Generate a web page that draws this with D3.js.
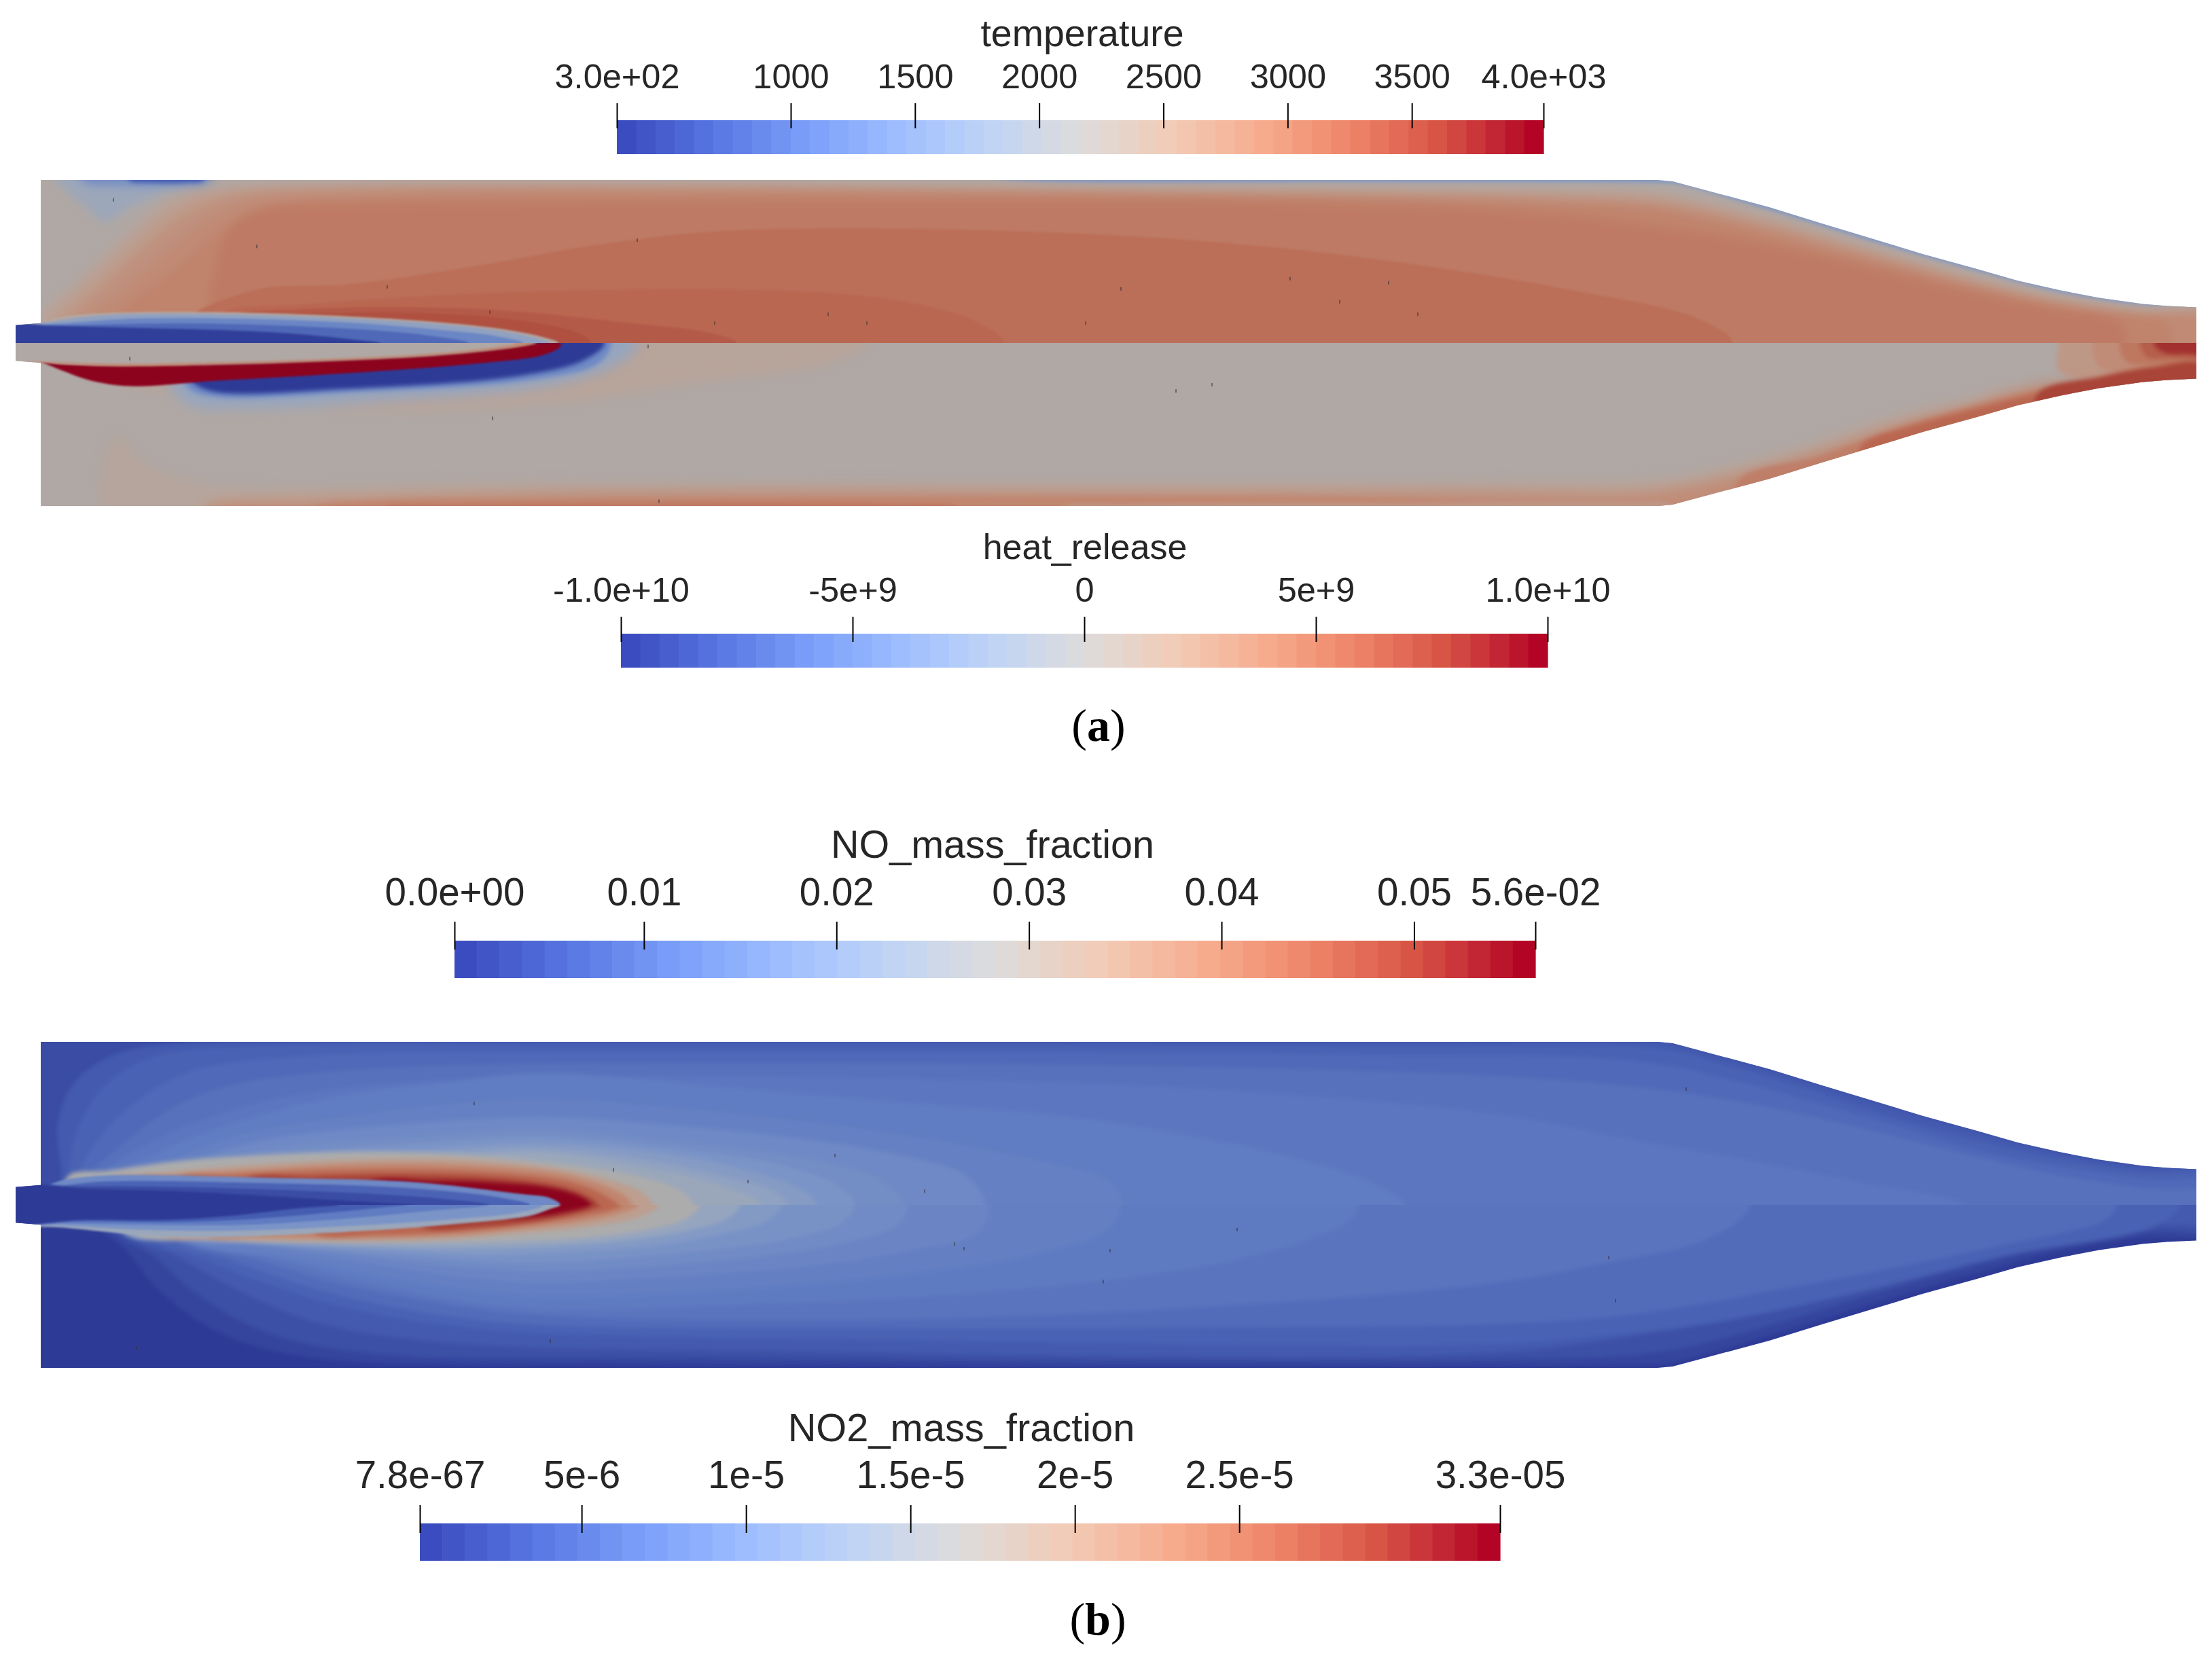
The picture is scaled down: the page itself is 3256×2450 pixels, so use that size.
<!DOCTYPE html>
<html>
<head>
<meta charset="utf-8">
<script src="https://cdnjs.cloudflare.com/ajax/libs/d3/7.8.5/d3.min.js"></script>
<style>
body { margin: 0; background: #fff; }
text { font-family: "Liberation Sans", Arial, sans-serif; fill: #262626; }
</style>
</head>
<body>
<div id="chart-area"></div>
<script>
// colour map stops (cool to warm)
var mapStops = [0, 0.1, 0.2, 0.3, 0.4, 0.5, 0.6, 0.7, 0.8, 0.9, 1];
var mapColors = ["#3b4cc0", "#5977e3", "#7b9ff9", "#9ebeff", "#c0d4f5", "#dddcdc", "#f2cbb7", "#f7ac8e", "#ee8468", "#d65244", "#b40426"];

// colour bars
var tempDomain = [300, 4030];
var tempTicks = [300, 1000, 1500, 2000, 2500, 3000, 3500, 4030];
var tempLabels = ["3.0e+02", "1000", "1500", "2000", "2500", "3000", "3500", "4.0e+03"];
var heatDomain = [-1e10, 1e10];
var heatTicks = [-1e10, -5e9, 0, 5e9, 1e10];
var heatLabels = ["-1.0e+10", "-5e+9", "0", "5e+9", "1.0e+10"];
var noDomain = [0.00016, 0.0563];
var noTicks = [0.00016, 0.01, 0.02, 0.03, 0.04, 0.05, 0.0563];
var noLabels = ["0.0e+00", "0.01", "0.02", "0.03", "0.04", "0.05", "5.6e-02"];
var no2Domain = [8e-8, 3.293e-5];
var no2Ticks = [8e-8, 5e-6, 1e-5, 1.5e-5, 2e-5, 2.5e-5, 3.293e-5];
var no2Labels = ["7.8e-67", "5e-6", "1e-5", "1.5e-5", "2e-5", "2.5e-5", "3.3e-05"];
var bandCount = 48;

// combustor half outline, axial x and radial y in the same length unit
var outlineX = [-3.7, -3.7, 0, 0, 238, 240.2, 247, 254.5, 262, 269.7, 277, 285, 291, 297.2, 303, 309.4, 313, 317.3, 317.3];
var outlineY = [0, 2.6, 2.9, 23.8, 23.8, 23.6, 21.8, 19.8, 17.5, 15.2, 13, 10.8, 9.1, 7.7, 6.6, 5.7, 5.4, 5.2, 0];

// temperature, upper half of (a): iso lines
var tempBase = 1500;
var tempRimLevels = [2250];
var tempRimLines = [
  [[-6,0],[-6,26.5],[134,25],[144,23.7],[194,23.5],[238,23.4],[241,23.2],[254.5,19.4],[269.7,14.8],[285,10.5],[297.2,7.4],[309.4,5.5],[324,5],[324,0]]
];
var tempSoftLevels = [2450, 2600, 2750, 2850, 2950, 3050];
var tempSoftLines = [
  [[-2,0],[0.4,4.5],[4.8,8.5],[11.9,15.2],[18.2,20.5],[24.6,22.5],[38.7,23.3],[94,23.4],[134,23.1],[224,22.4],[238,22],[244,20.9],[254.5,18.5],[269.7,14],[285,9.7],[297.2,6.8],[309.4,5.1],[324,4.5],[324,0]],
  [[0.5,0],[2.7,4.4],[6.9,8.2],[14,14.8],[20.1,19.7],[26.5,22],[41,22.9],[94,23.1],[139,22.7],[224,21.8],[238,21.2],[244.5,20.1],[254.5,17.7],[269.7,13.4],[285,9.2],[297.2,6.4],[309.4,4.8],[324,4.2],[324,0]],
  [[3,0],[5,4.3],[9,8],[16,14.5],[22,19],[28.5,21.5],[44,22.5],[94,22.8],[144,22.3],[224,21.2],[238,20.5],[245,19.3],[254.5,17],[269.7,12.8],[285,8.7],[297.2,6],[309.4,4.5],[324,3.9],[324,0]],
  [[6.5,0],[8,4.3],[13,8.2],[19.5,14],[25,18.2],[31,20.7],[49,21.9],[94,22.2],[159,21.9],[224,20.7],[238,19.9],[245.5,18.5],[254.5,16.3],[269.7,12.3],[285,8.3],[297.2,5.7],[309,4.2],[318,3.5],[319,0]],
  [[10,0],[11.5,4.3],[17,8.5],[23,13.5],[28,17.5],[34,20],[54,21.3],[94,21.7],[174,21.5],[224,20.2],[238,19.3],[246,17.7],[254.5,15.7],[269.7,11.8],[285,8],[297.2,5.5],[309,3.9],[312.5,3.3],[313.7,0]],
  [[24.6,0],[24.6,4.5],[25.9,11.5],[27.8,16.8],[32.3,19.5],[45,20.2],[75.5,20.5],[121.4,20.7],[178.8,20.5],[219,19],[241,16.5],[254.5,14.2],[269.7,10.8],[285,7.2],[297.2,4.8],[305.7,3.2],[307,0]]
];
var tempCoreLevels = [3200, 3280, 3400, 3500];
var tempCoreLines = [
  [[21,0],[21,3],[32,7.8],[45,8.5],[64,11.2],[81.2,14.2],[98.4,16.2],[121.4,16.7],[155.8,15.8],[178.8,14.2],[201.8,11.5],[224.7,7.8],[244,3.5],[249,0]],
  [[26,0],[26,4],[38.7,5.6],[64.2,7.2],[94,7.8],[115.7,7.3],[128.3,5.8],[137.5,3.2],[141.8,0]],
  [[28,0],[28,3.6],[38,4.9],[64,5],[87,2.9],[98.4,1.5],[102.5,0]],
  [[36,0],[36,3.5],[44,4.4],[58,4.3],[69,3.5],[79,1.5],[81,0]]
];
var tempJetLevels = [2300, 1700, 1200, 800, 340];
var tempJetLines = [
  [[-6,0],[-6,2.7],[0,3.1],[3.6,3.9],[10,4.4],[25.9,4.5],[45,3.9],[57.8,3.1],[67.4,2.1],[73.8,0.9],[76.2,0]],
  [[-6,0],[-6,2.6],[0,2.9],[4,3.5],[10,4.1],[25.9,4.2],[45,3.6],[57.8,2.8],[67.4,1.8],[73,0.7],[75,0]],
  [[-6,0],[-6,2.6],[0,2.7],[5,3],[12,3.5],[26,3.6],[45,3],[57.8,2],[67,1],[71,0]],
  [[-6,0],[-6,2.6],[0,2.6],[6,2.6],[14,2.8],[26,2.8],[45,2.1],[57,1.1],[63,0]],
  [[-6,0],[-6,2.6],[2,2.5],[14,2.2],[26,1.9],[38,1.3],[46,0.5],[50,0]]
];
var tempPatchLevels = [1900, 1300, 700];
var tempPatches = [
  [[2.3,24],[6.8,19.8],[9.3,17.8],[13.1,19.8],[17.6,21.8],[24,24],[24,27],[2.3,27]],
  [[6,23.7],[12,23],[19,23],[25,23.7],[25,27],[6,27]],
  [[13,23.8],[16.3,23.4],[21.5,23.4],[24,23.8],[24,27],[13,27]]
];

// heat release, lower half of (a)
var heatBase = 5e8;
var heatHaloSoftLevels = [1.2e9, -2e9];
var heatHaloSoftLines = [
  [[121.6,0],[114,-3.5],[98.4,-5.5],[81.2,-8.2],[64,-9.5],[50,-10],[30,-8],[12,-5]],
  [[88,0],[85,-3],[76,-6],[50,-8.5],[30,-9.5],[22,-9],[19,-6]]
];
var heatHaloLevels = [-5e9, -1e10];
var heatHaloLines = [
  [[84,0],[82,-3],[72,-5.4],[46,-7.2],[26,-7.9],[22,-6.8],[21,-5]],
  [[83,0],[80,-2.5],[70.5,-4.8],[45,-6.7],[25.9,-7.2],[22.7,-6],[22,-5]]
];
var heatOutletLevels = [2.5e9, 3.5e9, 5e9, 6.5e9, 8.5e9];
var heatOutletLines = [
  [[297,0],[297,-4],[302,-5.5],[324,-6.5]],
  [[302,0],[303,-3.5],[308,-4.5],[324,-5.5]],
  [[306,0],[307,-2.7],[312,-3.2],[324,-4]],
  [[309,0],[310,-2],[314,-2.2],[324,-2.6]],
  [[311,0],[312.5,-1.4],[316,-1.6],[324,-1.8]]
];
var heatWideLevels = [1.1e9, 2e9, 3.5e9];
var heatWidePatches = [
  [[11,-13.5],[15,-17.5],[22.7,-20.3],[32.3,-21.2],[64,-20.6],[120,-20.4],[224,-20.2],[239,-19.8],[248,-18],[260,-14.8],[272,-10.8],[285,-7.8],[288,-7],[324,-7],[324,-30],[11,-30]],
  [[24,-24],[34,-22.2],[50,-21.6],[64,-21.3],[120,-21.1],[224,-21],[239,-20.5],[248,-18.8],[260.6,-15.5],[272.8,-11.5],[285,-8.5],[288,-7.2],[324,-7],[324,-30],[24,-30]],
  [[24,-24.5],[40,-23.3],[60,-22.5],[84,-21.9],[150,-21.9],[214,-21.9],[234,-22.1],[241,-21.3],[250,-19.3],[262,-15.7],[274,-11.7],[286,-8.5],[294,-6],[299,-5.5],[324,-5.5],[324,-30],[24,-30]]
];
var heatWallLevels = [4e9, 4.8e9, 2.5e9, 4.5e9, 6e9, 7.8e9];
var heatWallPatches = [
  [[40,-24.2],[50,-23],[70,-22.8],[110,-22.6],[164,-22.5],[190,-22.6],[204,-23],[215,-24],[215,-26],[40,-26]],
  [[50,-24.2],[60,-23.6],[80,-23.3],[110,-23.2],[125,-23.4],[135,-24],[135,-26],[50,-26]],
  [[150,-24.2],[160,-23.6],[200,-23.4],[234,-23.3],[240,-23.6],[240,-26],[150,-26]],
  [[250,-20],[262,-16.5],[272.8,-12.5],[285,-9],[297,-6.2],[300,-6],[300,-12],[250,-26]],
  [[268,-15],[276,-12],[285,-9.6],[297.2,-6.5],[306,-4.2],[311,-3.3],[318,-2.9],[318,-9],[268,-20]],
  [[294,-7.3],[304,-4.8],[311,-3.6],[318,-3.2],[318,-9.5],[294,-11.5]]
];
var heatRedValue = 1e10;
var heatRedPatch = [[0,-2.5],[2.3,-3],[10,-3.2],[25.9,-3],[41.8,-2.5],[57.8,-1.7],[67.4,-0.8],[71.8,-0.1],[76.6,-0.1],[76.3,-0.7],[73.8,-1.8],[64.2,-3],[51.4,-4],[38.7,-4.8],[25.9,-5.5],[13.1,-6.3],[7.4,-5.5],[3.6,-4.2],[-0.3,-2.5]];
var heatJetLevels = [3.5e9, 5e8];
var heatJetLines = [
  [[-6,0],[-6,-2.7],[0,-2.9],[10,-3.4],[25.9,-3.2],[41.8,-2.7],[57.8,-1.9],[67.4,-1],[72,-0.3],[73,0]],
  [[-6,0],[-6,-2.7],[0,-2.7],[10,-3],[25.9,-2.8],[41.8,-2.3],[57.8,-1.5],[66,-0.7],[70,0]]
];

// NO mass fraction, upper half of (b), given as share of the bar
var noBase = 0.05;
var noLevels = [0.09, 0.115, 0.14, 0.165, 0.185, 0.2, 0.22, 0.25, 0.27, 0.3, 0.34, 0.38, 0.42, 0.5, 0.6, 0.7, 0.8, 0.9, 1];
var noLines = [
  [[2,0],[3,3.5],[2.5,12],[5,18],[11,22],[20,23.6],[40,24],[238,24],[241,23.5],[254.5,19.8],[269.7,15.2],[285,10.8],[297.2,7.7],[309.4,5.7],[324,5],[324,0]],
  [[4,3.8],[5,10],[9,17],[16,21.5],[30,23.2],[80,23.4],[200,23.2],[238,22.9],[248,20.5],[260,17],[272,13],[285,9.5],[297,6.8],[309,4.9],[324,4.2],[324,0]],
  [[5.5,3.9],[8,9],[14,15],[22,19.5],[40,21.8],[90,22.3],[190,22],[235,21],[250,18],[262,14.8],[275,11],[287,7.5],[298,5.5],[310,3.8],[324,3.2],[324,0]],
  [[7,4],[11,8],[19,14],[28,17.5],[50,20],[100,20.8],[180,20],[225,18.2],[248,15.5],[265,12],[282,7.8],[296,4.6],[310,2.5],[324,1.8],[324,0]],
  [[9,4],[14,8],[24,12.5],[40,16.5],[70,18.6],[120,18.6],[170,17],[214,13.3],[234,9.6],[251,6.6],[268,3.3],[283,0]],
  [[11,4],[17,7.5],[27,11.5],[42,15.5],[60,18],[74,19.3],[102.7,17],[131.4,14.6],[150.5,13],[169.7,10],[184,7],[196.4,3],[200.7,0]],
  [[13,4],[20,7],[30,10.5],[45,13],[60,14.8],[74,15.6],[93,14.3],[112.3,12.3],[131.4,9.6],[146.7,6.6],[157.2,3.6],[159.3,0]],
  [[14,4],[22,6.5],[33,9.5],[50,11.5],[74,12.8],[93,11.6],[112.3,9.6],[127.6,7],[136.2,4.3],[139,0]],
  [[15,4],[24,6],[36,8.5],[54,10],[74,11],[93,9.3],[114,6.6],[123.7,3.6],[126.9,0]],
  [[16,4],[26,5.5],[38,7.5],[55,9],[74,10],[93.1,8.3],[108.4,6],[117,3],[119.9,0]],
  [[17,4],[27,5.3],[40,7],[56,8],[74,9],[93,7.3],[104,5],[112,2.2],[114.2,0]],
  [[18,4.1],[30,5.3],[44,6.5],[58,7.5],[74,8.2],[90,6.4],[100,4.3],[108,2],[109.9,0]],
  [[19,4.2],[32,5.4],[46,6.2],[60,7],[74,7.6],[88,5.6],[98,3.5],[106,0]],
  [[3.9,4.1],[10,5],[22,6.6],[47,7.8],[62,7.4],[75,6.2],[87,4.4],[94,2.2],[96,0]],
  [[10,3.8],[16,4.5],[25,5.4],[47,6.7],[62,6.7],[75,5.5],[84,3.6],[88.5,1.8],[90,0]],
  [[14,3.8],[20,4.4],[30,5.1],[47,6],[62,5.9],[76,4.7],[82.5,3],[86,1.3],[87,0]],
  [[20,3.8],[28,4.4],[40,5],[55,5.2],[68,4.7],[77,3.6],[81.5,2.2],[84,0.8],[85,0]],
  [[30,3.5],[40,4.15],[55,4.4],[68,3.9],[76,2.8],[80,1.5],[82,0]],
  [[48,3],[58,3.5],[68,3.2],[75,2.5],[78.5,1.6],[80.5,0.6],[81,0]]
];
var noJetLevels = [0.25, 0.12, 0.05, 0];
var noJetLines = [
  [[-6,0],[-6,2.6],[0,2.6],[3.2,3.6],[9.3,4.3],[32.3,4],[55.2,3.3],[70.5,1.6],[75,1],[76.5,0]],
  [[-6,0],[-6,2.6],[1,2.6],[9,3.4],[32,3.2],[55,2.4],[68,1],[72,0]],
  [[-6,0],[-6,2.6],[6,2.7],[20,2.6],[40,2],[58,1],[66,0]],
  [[-6,0],[-6,2.6],[8,2.3],[20,2],[35,1.2],[50,0.3],[55,0]]
];

// NO2 mass fraction, lower half of (b), given as share of the bar
var no2Base = 0;
var no2Levels = [0.03, 0.06, 0.09, 0.115, 0.15, 0.175, 0.195, 0.215, 0.24, 0.26, 0.29, 0.33, 0.4, 0.5, 0.6, 0.7, 0.8, 0.9, 1];
var no2Lines = [
  [[9,-3.5],[12,-6],[18,-13],[27,-19],[40,-22.3],[90,-23.3],[230,-23.4],[240,-23],[255,-18.9],[270,-14.3],[285,-9.9],[297,-6.8],[309,-4.8],[324,-4],[324,0]],
  [[11,-4],[16,-7],[23,-13],[33,-18.5],[48,-21.6],[100,-22.4],[214,-22.6],[238,-21.5],[252,-18.3],[268,-13.5],[284,-9],[297,-5.8],[310,-3.9],[324,-3.4],[324,0]],
  [[13,-4.3],[20,-7.5],[28,-12],[40,-17],[58,-20],[110,-21.4],[214,-21.6],[238,-18.6],[252,-16],[268,-11.7],[284,-7.4],[297,-4.7],[310,-3],[324,-2.5],[324,0]],
  [[16,-4.5],[24,-8],[33,-11.5],[46,-15.3],[66,-18.3],[120,-19.7],[214,-20.4],[227.5,-19.4],[247.6,-17],[267.8,-12.7],[288,-7.7],[311.6,-3],[314.9,0]],
  [[19,-4.5],[28,-8],[38,-11.5],[50,-14.5],[70,-17.3],[120,-18],[170,-17.9],[214,-17.4],[234,-16],[261,-11.4],[288,-6],[304.2,-2],[305.5,0]],
  [[20,-4.4],[32,-8],[42,-11],[54,-13.5],[72,-16],[120,-16.8],[170,-15],[214,-11.4],[230.8,-8.4],[244.3,-5.4],[250.3,-2],[251.7,0]],
  [[20,-4.3],[35,-8],[46,-11],[60,-13.8],[74,-15.4],[102.7,-14.7],[131.4,-13.4],[160,-10.7],[179,-7.4],[192.6,-2.4],[194,0]],
  [[20,-4.3],[38,-8],[50,-10.5],[62,-12.4],[74,-13.4],[102.7,-12.4],[131.4,-9.7],[145.7,-7.4],[157,-3.7],[159,0]],
  [[20,-4.2],[30,-5.5],[42,-7.5],[55,-9.6],[65,-10.8],[74,-11.4],[83.6,-11],[112.3,-9],[127.6,-6.7],[138,-4],[139.5,0]],
  [[18,-4.2],[32,-5.6],[44,-7],[57,-8.6],[66,-9.3],[74,-9.8],[85,-9.3],[105,-7.6],[118,-5.6],[126,-3],[127.6,0]],
  [[16,-4.2],[26,-5.2],[34,-5.9],[46,-6.9],[58,-7.8],[70,-8.5],[80,-8.2],[95,-7],[110,-5],[118,-2.6],[119.9,0]],
  [[14,-4.1],[24,-5.2],[36,-5.8],[48,-6.4],[65,-7.3],[75,-7],[90,-6],[100,-4.3],[107,-2.3],[109,0]],
  [[12,-4],[24,-5.2],[38,-5.7],[55,-6.3],[70,-6.2],[86,-5.2],[95,-3.8],[101,-2],[103,0]],
  [[14,-4],[24,-5.2],[45,-5.6],[62,-5.5],[80,-4.8],[90,-3.5],[95,-2],[97,0]],
  [[18,-4.3],[26,-5],[45,-5.3],[60,-5],[70,-4.2],[82,-3],[88.5,-1.6],[91,0]],
  [[24,-4.3],[32,-4.7],[50,-4.9],[62,-4.4],[72,-3.4],[81,-2.2],[86,-1],[88,0]],
  [[40,-3.9],[50,-4.4],[62,-3.9],[72,-2.8],[80,-1.6],[84.5,-0.6],[85.5,0]],
  [[56,-3],[65,-3.2],[73,-2.4],[79,-1.2],[82,-0.3],[82.5,0]],
  [[68,-1.5],[74,-1.6],[78,-0.9],[80.5,-0.3],[81,0]]
];
var no2JetLevels = [0.42, 0.3, 0.2, 0.1, 0];
var no2JetLines = [
  [[-6,0],[-6,-2.6],[3,-3.3],[20,-4.7],[47.5,-3.8],[62,-2.7],[72,-1.6],[75,-0.6],[76.5,0]],
  [[-6,0],[-6,-2.6],[3,-3],[14,-3.6],[28,-3.8],[47,-3],[62,-2],[70,-1.2],[74,0]],
  [[-6,0],[-6,-2.6],[3,-2.7],[14,-2.9],[30,-2.9],[45,-2],[58,-0.8],[66,0]],
  [[-6,0],[-6,-2.6],[6,-2.4],[20,-2.5],[32,-2],[44,-1],[52,-0.2],[54,0]],
  [[-6,0],[-6,-2.6],[6,-2.2],[18,-2.2],[28,-1.6],[38,-0.5],[44,0]]
];

// small dark mesh specks seen in the two fields
var specksA = [[87.8,15],[183.9,9.4],[198.4,8.8],[159,7.9],[191.2,6],[202.7,4.2],[115.9,4.2],[66.1,4.5],[99.2,2.9],[121.6,2.9],[153.8,2.9],[10.7,20.9],[31.8,14.1],[51,8.2],[89.4,-0.5],[172.4,-6.1],[167.1,-7],[66.5,-11],[91,-23.1],[13.1,-2.3]];
var specksB = [[116.9,7.2],[84.3,5.1],[104.1,3.4],[130.1,2],[176.1,-3.6],[134.5,-5.7],[135.9,-6.4],[157.4,-6.7],[156.4,-11.2],[75,-19.9],[63.8,14.8],[14.1,-20.9],[242.2,16.9],[230.8,-7.7],[231.8,-14]];

var width = 3256, height = 2450;
var lighting = 0.78;

var svg = d3.select("#chart-area").append("svg")
    .attr("width", width)
    .attr("height", height)
    .style("display", "block");

var defs = svg.append("defs");
function addBlur(id, amount) {
    defs.append("filter")
        .attr("id", id)
        .attr("filterUnits", "userSpaceOnUse")
        .attr("x", -100).attr("y", -100)
        .attr("width", width + 200).attr("height", height + 200)
        .attr("color-interpolation-filters", "sRGB")
        .append("feGaussianBlur")
        .attr("stdDeviation", amount);
}
addBlur("wide", 9);
addBlur("soft", 7);
addBlur("mid", 3);
addBlur("fine", 1.6);

var coolwarm = d3.scaleLinear().domain(mapStops).range(mapColors);

// shaded surface colour of the field for a share t of the colour bar
function fieldColor(t) {
    var c = d3.rgb(coolwarm(t));
    return d3.rgb(c.r * lighting, c.g * lighting, c.b * lighting).formatHex();
}

var xField = d3.scaleLinear().domain([-3.7, 317.3]).range([23, 3233]);

function mirror(line) {
    var back = line.filter(function(d) { return d[1] != 0; })
        .map(function(d) { return [d[0], -d[1]]; })
        .reverse();
    return line.concat(back);
}

function drawHalf(clipId, sign, centerY) {
    var y = d3.scaleLinear().domain([-23.8, 23.8]).range([centerY + 240, centerY - 240]);
    var pts = outlineX.map(function(d, i) { return [d, sign * outlineY[i]]; });
    defs.append("clipPath").attr("id", clipId)
        .append("path")
        .attr("d", d3.line().x(function(d) { return xField(d[0]); }).y(function(d) { return y(d[1]); })(pts) + "Z");
    var outer = svg.append("g").attr("clip-path", "url(#" + clipId + ")");
    var shape = d3.line()
        .curve(d3.curveCatmullRomClosed.alpha(0.5))
        .x(function(d) { return xField(d[0]); })
        .y(function(d) { return y(d[1]); });

    return {
        base: function(t) {
            outer.append("rect")
                .attr("x", xField(-10)).attr("width", xField(330) - xField(-10))
                .attr("y", y(sign > 0 ? 30 : 0)).attr("height", y(0) - y(30))
                .attr("fill", fieldColor(t));
        },
        // iso lines closed across the axis
        lines: function(blur, ts, lines) {
            var g = outer.append("g").attr("filter", "url(#" + blur + ")");
            g.selectAll("path").data(lines).enter().append("path")
                .attr("d", function(d) { return shape(mirror(d)); })
                .attr("fill", function(d, i) { return fieldColor(ts[i]); });
        },
        // free standing patches against a wall
        patches: function(blur, ts, patches) {
            var g = outer.append("g").attr("filter", "url(#" + blur + ")");
            g.selectAll("path").data(patches).enter().append("path")
                .attr("d", function(d) { return shape(d); })
                .attr("fill", function(d, i) { return fieldColor(ts[i]); });
        },
        specks: function(list) {
            outer.selectAll("rect.speck").data(list.filter(function(d) { return d[1] * sign > 0; }))
                .enter().append("rect")
                .attr("class", "speck")
                .attr("x", function(d) { return xField(d[0]) - 1; })
                .attr("y", function(d) { return y(d[1]) - 2.5; })
                .attr("width", 2).attr("height", 5)
                .attr("fill", "#333").attr("opacity", 0.55);
        }
    };
}

var tempShare = d3.scaleLinear().domain(tempDomain).range([0, 1]);
var heatShare = d3.scaleLinear().domain(heatDomain).range([0, 1]);

// panel (a)
var tempHalf = drawHalf("clip-temp", 1, 505);
tempHalf.base(tempShare(tempBase));
tempHalf.lines("mid", tempRimLevels.map(tempShare), tempRimLines);
tempHalf.lines("soft", tempSoftLevels.map(tempShare), tempSoftLines);
tempHalf.lines("fine", tempCoreLevels.map(tempShare), tempCoreLines);
tempHalf.patches("soft", tempPatchLevels.slice(0, 2).map(tempShare), tempPatches.slice(0, 2));
tempHalf.patches("mid", tempPatchLevels.slice(2).map(tempShare), tempPatches.slice(2));
tempHalf.lines("fine", tempJetLevels.map(tempShare), tempJetLines);
tempHalf.specks(specksA);

var heatHalf = drawHalf("clip-heat", -1, 505);
heatHalf.base(heatShare(heatBase));
heatHalf.lines("mid", heatOutletLevels.map(heatShare), heatOutletLines);
heatHalf.patches("wide", heatWideLevels.map(heatShare), heatWidePatches);
heatHalf.patches("mid", heatWallLevels.map(heatShare), heatWallPatches);
heatHalf.lines("wide", heatHaloSoftLevels.map(heatShare), heatHaloSoftLines);
heatHalf.lines("mid", heatHaloLevels.map(heatShare), heatHaloLines);
heatHalf.patches("fine", [heatShare(heatRedValue)], [heatRedPatch]);
heatHalf.lines("fine", heatJetLevels.map(heatShare), heatJetLines);
heatHalf.specks(specksA);

// panel (b)
var noHalf = drawHalf("clip-no", 1, 1774);
noHalf.base(noBase);
noHalf.lines("mid", noLevels, noLines);
noHalf.lines("fine", noJetLevels, noJetLines);
noHalf.specks(specksB);

var no2Half = drawHalf("clip-no2", -1, 1774);
no2Half.base(no2Base);
no2Half.lines("mid", no2Levels, no2Lines);
no2Half.lines("fine", no2JetLevels, no2JetLines);
no2Half.specks(specksB);

// colour bar with its ticks and title
function drawBar(title, domain, ticks, labels, left, right, top, barHeight, tickBelow, tickLength, padding, labelSize, titleSize, titleX, titleY) {
    var x = d3.scaleLinear().domain(domain).range([left, right]);
    var cells = d3.scaleBand().domain(d3.range(bandCount)).range([left, right]);

    svg.append("g").selectAll("rect").data(d3.range(bandCount)).enter().append("rect")
        .attr("x", function(d) { return cells(d); })
        .attr("y", top)
        .attr("width", cells.bandwidth() + 0.6)
        .attr("height", barHeight)
        .attr("fill", function(d) { return coolwarm(d / (bandCount - 1)); });

    var axis = d3.axisTop(x)
        .tickValues(ticks)
        .tickFormat(function(d, i) { return labels[i]; })
        .tickSize(tickLength)
        .tickPadding(padding);

    var g = svg.append("g")
        .attr("transform", "translate(0," + (top + tickBelow) + ")")
        .call(axis);
    g.select(".domain").remove();
    g.selectAll(".tick line").attr("stroke", "#000").attr("stroke-width", 2);
    g.selectAll(".tick text")
        .attr("fill", "#262626")
        .style("font-family", "'Liberation Sans', Arial, sans-serif")
        .style("font-size", labelSize + "px");

    svg.append("text")
        .attr("x", titleX)
        .attr("y", titleY)
        .attr("text-anchor", "middle")
        .attr("font-size", titleSize)
        .text(title);
}

drawBar("temperature", tempDomain, tempTicks, tempLabels, 908, 2272, 177, 50, 12, 37, 22, 50.5, 55.5, 1593, 68);
drawBar("heat_release", heatDomain, heatTicks, heatLabels, 914, 2278, 933, 50, 12, 37, 22, 50.5, 52, 1597, 823);
drawBar("NO_mass_fraction", noDomain, noTicks, noLabels, 669, 2260, 1385, 55, 13, 41, 24, 56.5, 57.5, 1461, 1263);
drawBar("NO2_mass_fraction", no2Domain, no2Ticks, no2Labels, 618, 2208, 2243, 55, 14, 41, 25, 56.5, 57.8, 1415, 2122);

// panel captions
function caption(letter, cx, baseline) {
    var t = svg.append("text")
        .attr("x", cx)
        .attr("y", baseline)
        .attr("text-anchor", "middle")
        .style("font-family", "'Liberation Serif', 'Times New Roman', serif")
        .style("fill", "#000")
        .attr("font-size", 68);
    t.append("tspan").text("(");
    t.append("tspan").attr("font-weight", "bold").text(letter);
    t.append("tspan").text(")");
}
caption("a", 1617, 1091);
caption("b", 1616, 2407);
</script>
</body>
</html>
